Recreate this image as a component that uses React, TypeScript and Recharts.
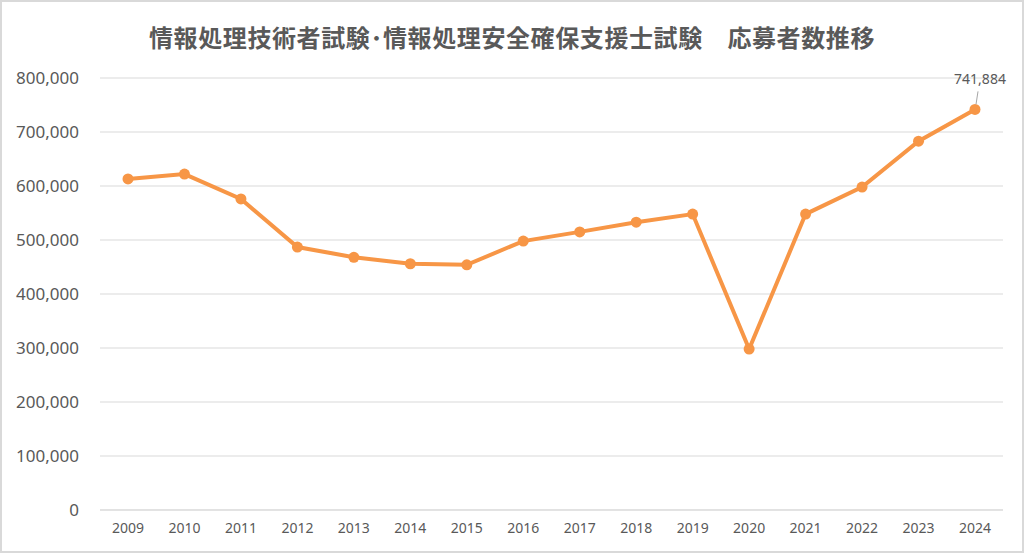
import React from 'react';
import { LineChart, Line, XAxis, YAxis, CartesianGrid, LabelList } from 'recharts';

const TITLE = '情報処理技術者試験･情報処理安全確保支援士試験　応募者数推移';

const years = ['2009', '2010', '2011', '2012', '2013', '2014', '2015', '2016', '2017', '2018', '2019', '2020', '2021', '2022', '2023', '2024'];
const applicants = [613000, 622000, 576000, 487000, 468000, 456000, 454000, 498000, 515000, 533000, 548000, 298000, 548000, 598000, 683000, 741884];
const yTicks = [0, 100000, 200000, 300000, 400000, 500000, 600000, 700000, 800000];

const data = years.map((year, i) => ({ year, value: applicants[i] }));

const TEXT = '#595959';
const GRID = '#d9d9d9';
const ORANGE = '#f79646';
const FONT = '"Noto Sans", "DejaVu Sans", sans-serif';

const fmt = (v: number) => v.toLocaleString('en-US');

// only the last point carries a label, with a short leader line
const LastLabel = (props: any) => {
  const { x, y, value, index } = props;
  if (index !== years.length - 1) return null;
  return (
    <g>
      <line x1={x + 1} y1={y - 5} x2={x + 3} y2={y - 18} stroke="#a6a6a6" strokeWidth={1} />
      <text x={x + 5} y={y - 25} textAnchor="middle" fill={TEXT} fontSize={14} fontFamily={FONT}>
        {fmt(value)}
      </text>
    </g>
  );
};

const App: React.FC = () => {
  return (
    <div style={{ position: 'absolute', left: 0, top: 0, width: 1024, height: 553, background: '#fff' }}>
      <div
        style={{
          position: 'absolute',
          inset: 0,
          border: '2px solid #d9d9d9',
          boxSizing: 'border-box',
          pointerEvents: 'none',
        }}
      />
      <div
        style={{
          position: 'absolute',
          top: 21,
          width: 1024,
          textAlign: 'center',
          fontFamily: '"Noto Sans CJK JP", sans-serif',
          fontWeight: 700,
          fontSize: 24,
          letterSpacing: 0.6,
          color: TEXT,
          lineHeight: '32px',
        }}
      >
        {TITLE}
      </div>
      <LineChart width={1024} height={553} data={data} margin={{ top: 78, right: 21, bottom: 10, left: 0 }}>
        <CartesianGrid vertical={false} stroke={GRID} strokeWidth={1} />
        <XAxis
          dataKey="year"
          axisLine={{ stroke: GRID }}
          tickLine={false}
          tickMargin={7}
          height={33}
          interval={0}
          padding={{ left: 28, right: 28 }}
          tick={{ fill: TEXT, fontSize: 14, fontFamily: FONT }}
        />
        <YAxis
          domain={[0, 800000]}
          ticks={yTicks}
          axisLine={false}
          tickLine={false}
          width={100}
          tickMargin={15}
          tickFormatter={fmt}
          tick={{ fill: TEXT, fontSize: 17, fontFamily: FONT }}
        />
        <Line
          type="linear"
          dataKey="value"
          stroke={ORANGE}
          strokeWidth={4}
          dot={{ r: 5.5, fill: ORANGE, stroke: ORANGE, strokeWidth: 0 }}
          isAnimationActive={false}
        >
          <LabelList dataKey="value" content={<LastLabel />} />
        </Line>
      </LineChart>
    </div>
  );
};

export default App;
